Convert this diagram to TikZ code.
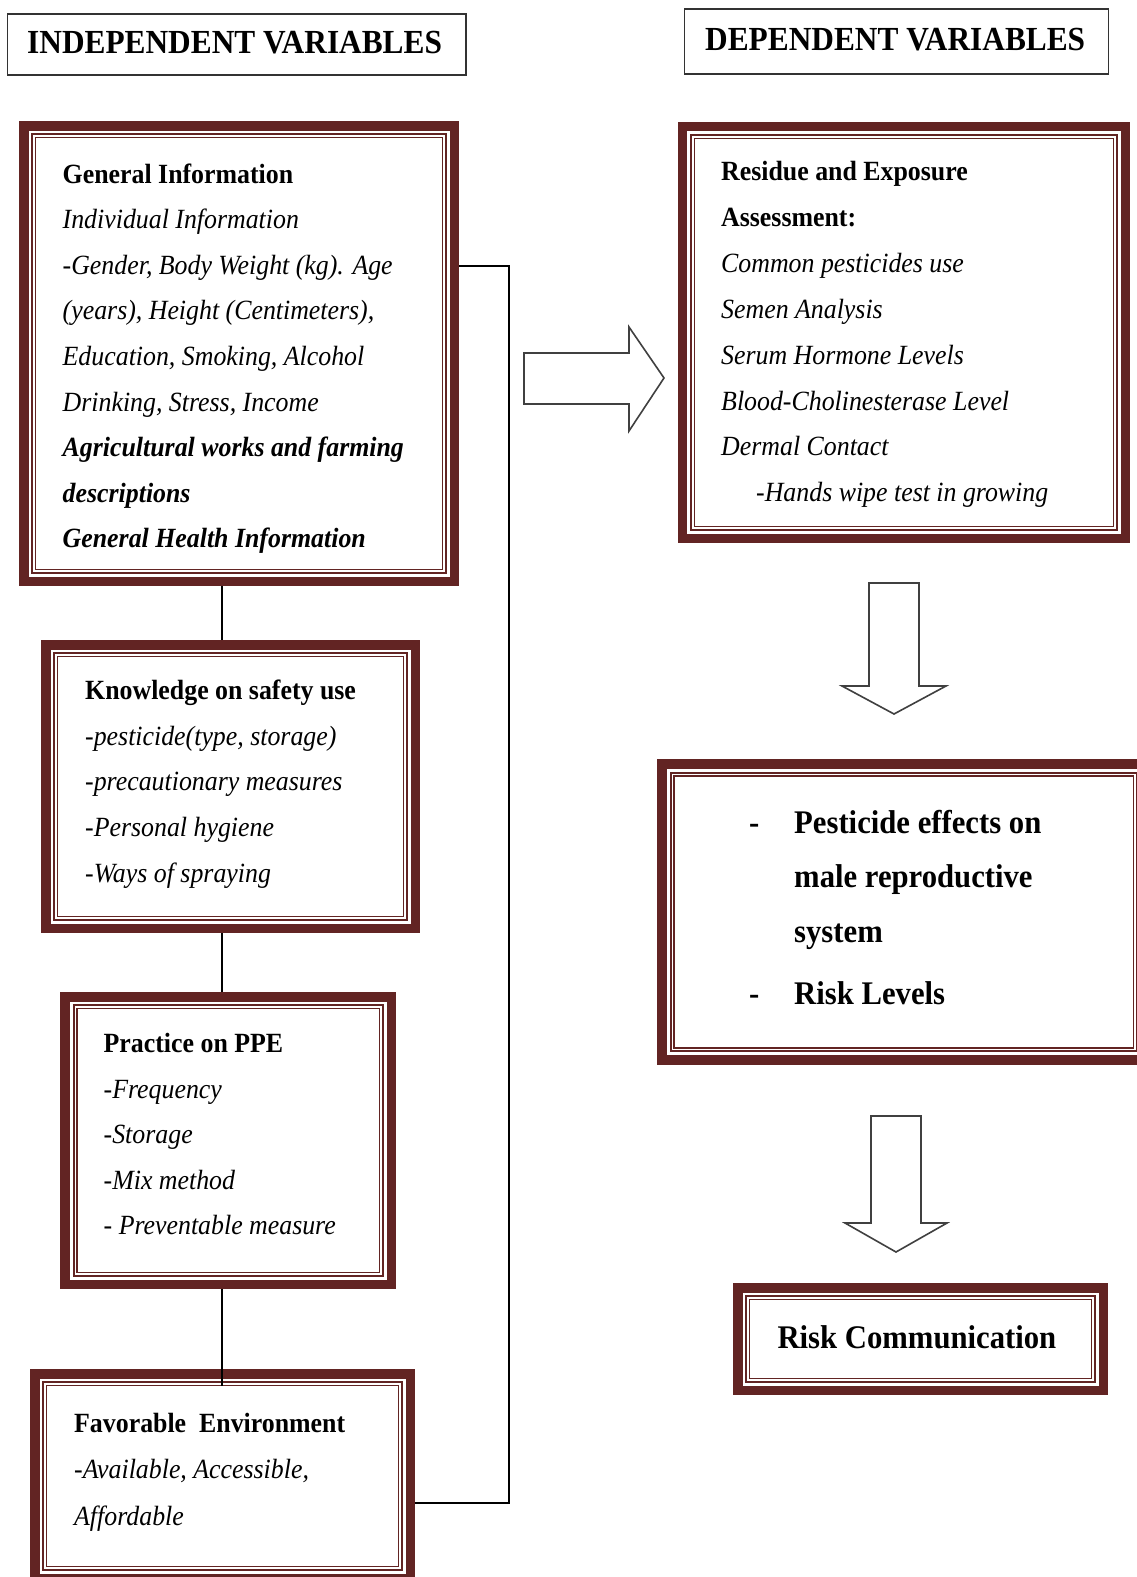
\documentclass[tikz,border=0pt]{standalone}
\usepackage{fontspec}
\setmainfont{Liberation Serif}[FakeStretch=0.93]
\usetikzlibrary{fit}
\definecolor{dred}{HTML}{622423}

% A box with a thick outer band and two thin inner rules
\newcommand\tribox[5]{%
  \coordinate (#1nw) at (#2,#3);
  \coordinate (#1se) at (#4,#5);
  \node[fit=(#1nw)(#1se), inner sep=0pt, outer sep=0pt] (#1) {};
  \draw[line width=9.5pt, dred] ([shift={(4.75,4.75)}]#1.north west) rectangle ([shift={(-4.75,-4.75)}]#1.south east);
  \draw[line width=1.8pt, dred] ([shift={(13.3,13.3)}]#1.north west) rectangle ([shift={(-13.3,-13.3)}]#1.south east);
  \draw[line width=1.4pt, dred] ([shift={(16.6,16.6)}]#1.north west) rectangle ([shift={(-16.6,-16.6)}]#1.south east);
}

\tikzset{
  body/.style={anchor=base west, inner sep=0pt, font=\fontsize{27.8}{33}\selectfont},
  big/.style={anchor=base west, inner sep=0pt, font=\fontsize{33}{40}\selectfont\bfseries},
  hdrbox/.style={draw=black!80, line width=1.3pt, inner sep=0pt},
  hdrtext/.style={anchor=base west, inner sep=0pt, font=\fontsize{33.7}{40}\selectfont\bfseries},
  conn/.style={draw=black, line width=1.2pt},
  blockarrow/.style={draw=black!75, line width=1.6pt, fill=white, line join=miter},
}

\begin{document}
\begin{tikzpicture}[x=1pt, y=-1pt]
\useasboundingbox[fill=white] (0,0) rectangle (1136,1577);

% ---- headers
\coordinate (ihnw) at (7.3,14);
\coordinate (ihse) at (466,75);
\node[hdrbox, fit=(ihnw)(ihse)] (indep) {};
\node[hdrtext] (indeptext) at (27,53.3) {INDEPENDENT VARIABLES};

\coordinate (dhnw) at (684.7,9);
\coordinate (dhse) at (1108.7,74);
\node[hdrbox, fit=(dhnw)(dhse)] (dep) {};
\node[hdrtext] (deptext) at (705,50) {DEPENDENT VARIABLES};

% ---- framed boxes
\tribox{G}{19}{121}{459}{586}
\tribox{K}{41}{640}{420}{933}
\tribox{P}{60.3}{992}{396}{1289}
\tribox{F}{30}{1369}{415}{1583}
\tribox{R}{677.6}{121.6}{1130}{543}
\tribox{E}{657.3}{759.3}{1150}{1064.6}
\tribox{C}{733}{1283}{1108}{1395}

% ---- general information
\node[body] (g1) at (62.5,183.0) {\textbf{General Information}};
\node[body] (g2) at (62.5,228.6) {\textit{Individual Information}};
\node[body] (g3) at (62.5,274.2) {\textit{-Gender, Body Weight (kg). Age}};
\node[body] (g4) at (62.5,319.8) {\textit{(years), Height (Centimeters),}};
\node[body] (g5) at (62.5,365.4) {\textit{Education, Smoking, Alcohol}};
\node[body] (g6) at (62.5,411.0) {\textit{Drinking, Stress, Income}};
\node[body] (g7) at (62.5,456.6) {\textbf{\textit{Agricultural works and farming}}};
\node[body] (g8) at (62.5,502.2) {\textbf{\textit{descriptions}}};
\node[body] (g9) at (62.5,547.8) {\textbf{\textit{General Health Information}}};

% ---- knowledge
\node[body] (k1) at (85,699.5) {\textbf{Knowledge on safety use}};
\node[body] (k2) at (85,745.2) {\textit{-pesticide(type, storage)}};
\node[body] (k3) at (85,790.9) {\textit{-precautionary measures}};
\node[body] (k4) at (85,836.6) {\textit{-Personal hygiene}};
\node[body] (k5) at (85,882.3) {\textit{-Ways of spraying}};

% ---- practice
\node[body] (p1) at (103.5,1052.5) {\textbf{Practice on PPE}};
\node[body] (p2) at (103.5,1098.1) {\textit{-Frequency}};
\node[body] (p3) at (103.5,1143.7) {\textit{-Storage}};
\node[body] (p4) at (103.5,1189.3) {\textit{-Mix method}};
\node[body] (p5) at (103.5,1234.9) {\textit{- Preventable measure}};

% ---- environment
\node[body] (f1) at (74,1432) {\textbf{Favorable~ Environment}};
\node[body] (f2) at (74,1478) {\textit{-Available, Accessible,}};
\node[body] (f3) at (74,1525) {\textit{Affordable}};

% ---- residue and exposure
\node[body] (r1) at (721,180.7) {\textbf{Residue and Exposure}};
\node[body] (r2) at (721,226.6) {\textbf{Assessment:}};
\node[body] (r3) at (721,272.4) {\textit{Common pesticides use}};
\node[body] (r4) at (721,318.3) {\textit{Semen Analysis}};
\node[body] (r5) at (721,364.1) {\textit{Serum Hormone Levels}};
\node[body] (r6) at (721,410.0) {\textit{Blood-Cholinesterase Level}};
\node[body] (r7) at (721,455.9) {\textit{Dermal Contact}};
\node[body] (r8) at (756,501.7) {\textit{-Hands wipe test in growing}};

% ---- effects
\node[big] (e0) at (749,833.3) {-};
\node[big] (e1) at (794,833.3) {Pesticide effects on};
\node[big] (e2) at (794,887.5) {male reproductive};
\node[big] (e3) at (794,942.5) {system};
\node[big] (e4) at (749,1004) {-};
\node[big] (e5) at (794,1004) {Risk Levels};

% ---- communication
\node[big] (c1) at (777.3,1348) {Risk Communication};

% ---- connectors on the left
\coordinate (spine) at (222,0);
\draw[conn] (G.south -| spine) -- (K.north -| spine);
\draw[conn] (K.south -| spine) -- (P.north -| spine);
\draw[conn] (P.south -| spine) -- ([yshift=-17pt]F.north -| spine);

\coordinate (busTop) at (509,266);
\coordinate (busBot) at (509,1503);
\draw[conn] (G.east |- busTop) -- (busTop) -- (busBot) -- (F.east |- busBot);

% ---- block arrows
\draw[blockarrow] (524,353) -- (629,353) -- (629,327) -- (664,378) -- (629,431) -- (629,404) -- (524,404) -- cycle;
\draw[blockarrow] (869,583) -- (919,583) -- (919,686) -- (946,686) -- (894,714) -- (842,686) -- (869,686) -- cycle;
\draw[blockarrow] (871,1116) -- (921,1116) -- (921,1223) -- (947,1223) -- (896,1252) -- (845,1223) -- (871,1223) -- cycle;
\end{tikzpicture}
\end{document}
